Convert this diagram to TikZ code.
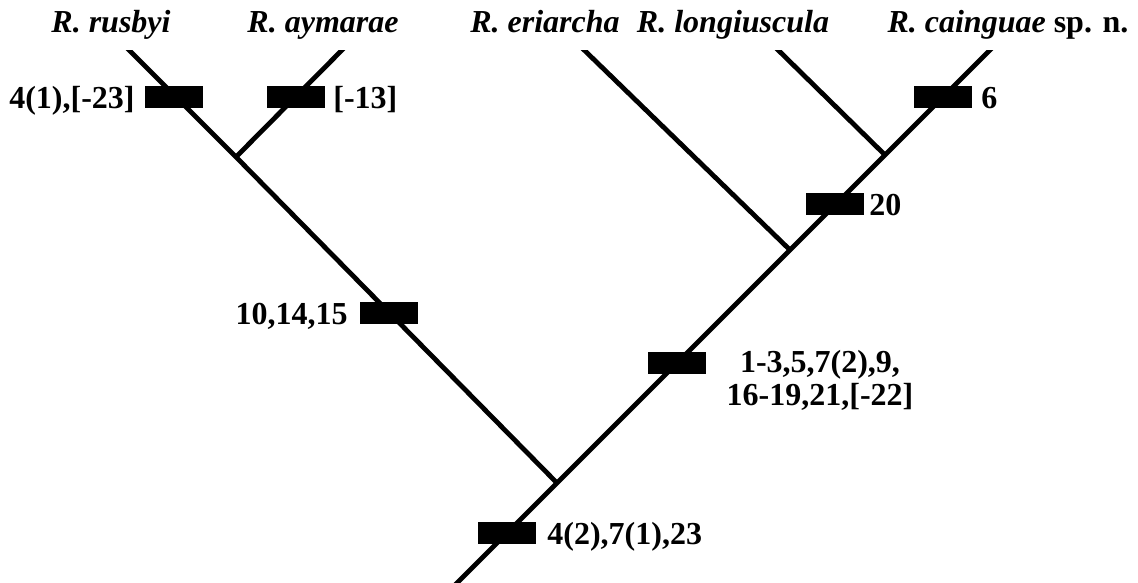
\documentclass[tikz,border=0pt]{standalone}
\usepackage{fontspec}
\setmainfont{Liberation Serif}
\begin{document}
\begin{tikzpicture}[x=1pt,y=-1pt,
  branch/.style={line width=4.8pt},
  charbox/.style={fill=black,draw=none,minimum width=58pt,minimum height=22pt,inner sep=0pt},
  lab/.style={font=\fontsize{32}{33}\selectfont\bfseries,inner sep=0pt},
  taxon/.style={font=\fontsize{32}{33}\selectfont\bfseries,inner sep=0pt,anchor=base}]
\useasboundingbox (0,0) rectangle (1138,583);
% coordinates
\coordinate (base) at (447,593);
\coordinate (n0) at (557,483);
\coordinate (nL) at (236,157);
\coordinate (nE) at (790,250);
\coordinate (nG) at (885,155);
\coordinate (tR) at (125,46);
\coordinate (tA) at (346,46);
\coordinate (tE) at (580,46);
\coordinate (tG) at (774,46);
\coordinate (tC) at (994,46);
% branches
\begin{scope}
\clip (0,51) rectangle (1138,583);
\draw[branch] (base) -- (n0) -- (nE) -- (nG) -- (tC);
\draw[branch] (n0) -- (nL) -- (tR);
\draw[branch] (nL) -- (tA);
\draw[branch] (nE) -- (tE);
\draw[branch] (nG) -- (tG);
\end{scope}
% character boxes
\node[charbox] (b1) at (174,97) {};
\node[charbox] (b2) at (296,97) {};
\node[charbox] (b3) at (389,313) {};
\node[charbox] (b4) at (507,533) {};
\node[charbox] (b5) at (677,363) {};
\node[charbox] (b6) at (835,204) {};
\node[charbox] (b7) at (943,97) {};
% character labels
\node[lab,anchor=base east] (l1) at ([xshift=-10pt]b1.south west) {4(1),[-23]};
\node[lab,anchor=base west] (l2) at ([xshift=8pt]b2.south east) {[-13]};
\node[lab,anchor=base east] (l3) at ([xshift=-12pt]b3.south west) {10,14,15};
\node[lab,anchor=base west] (l4) at ([xshift=11pt]b4.south east) {4(2),7(1),23};
\node[lab,align=center,anchor=base] (l5) at (820,405) {1-3,5,7(2),9,\\16-19,21,[-22]};
\node[lab,anchor=base west] (l6) at ([xshift=5pt]b6.south east) {20};
\node[lab,anchor=base west] (l7) at ([xshift=9pt]b7.south east) {6};
% taxa
\node[taxon] (sR) at (111,33) {\textit{R. rusbyi}};
\node[taxon] (sA) at (323,33) {\textit{R. aymarae}};
\node[taxon] (sE) at (545,33) {\textit{R. eriarcha}};
\node[taxon] (sG) at (733,33) {\textit{R. longiuscula}};
\node[taxon] (sC) at (1008,33) {\textit{R. cainguae} sp. n.};
\end{tikzpicture}
\end{document}
